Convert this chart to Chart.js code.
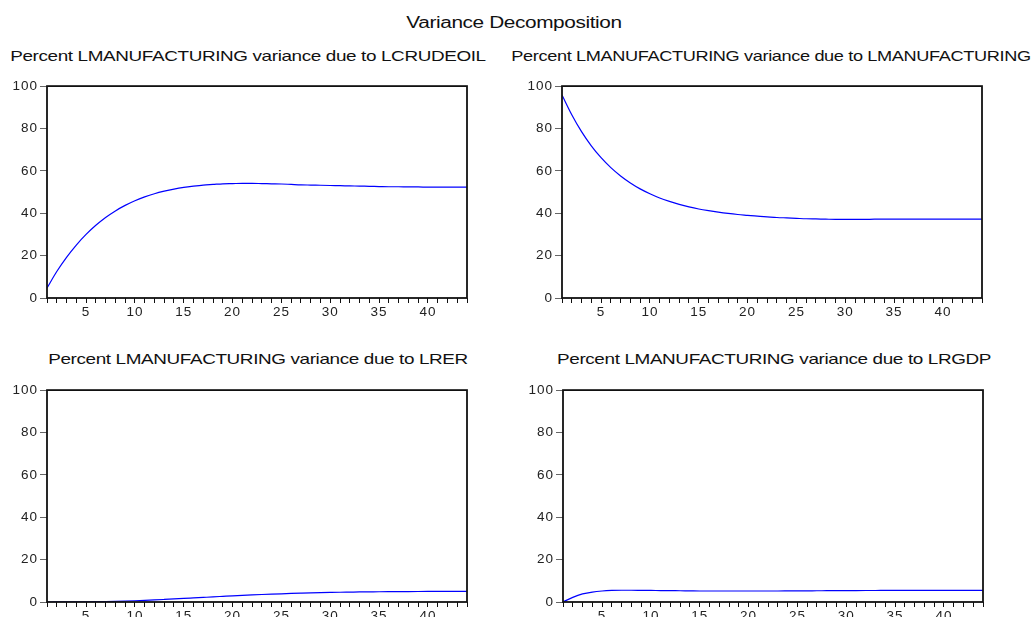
<!DOCTYPE html>
<html>
<head>
<meta charset="utf-8">
<script src="https://cdn.jsdelivr.net/npm/chart.js@4.4.1/dist/chart.umd.min.js"></script>
<style>
  html, body { margin:0; padding:0; background:#fff; width:1033px; height:617px; overflow:hidden; }
  body { position:relative; font-family:"Liberation Sans", Arial, sans-serif; color:#111; }
  .t { position:absolute; white-space:nowrap; transform:translateX(-50%) scaleX(1.26); font-size:15px; line-height:17px; letter-spacing:-0.3px; }
  .main { font-size:16px; line-height:18px; transform:translateX(-50%) scaleX(1.3); }
  .narrow { transform:translateX(-50%) scaleX(1.21); }
  canvas { position:absolute; }
</style>
</head>
<body>
<div class="t main" style="left:514px; top:14px;">Variance Decomposition</div>
<div class="t" style="left:248px; top:47px;">Percent LMANUFACTURING variance due to LCRUDEOIL</div>
<div class="t narrow" style="left:771px; top:47px;">Percent LMANUFACTURING variance due to LMANUFACTURING</div>
<div class="t" style="left:258px; top:350px;">Percent LMANUFACTURING variance due to LRER</div>
<div class="t" style="left:774px; top:350px;">Percent LMANUFACTURING variance due to LRGDP</div>
<canvas id="c1" width="480" height="250" style="left:0; top:76px;"></canvas>
<canvas id="c2" width="480" height="250" style="left:515px; top:76px;"></canvas>
<canvas id="c3" width="480" height="250" style="left:0; top:380px;"></canvas>
<canvas id="c4" width="480" height="250" style="left:516px; top:380px;"></canvas>
<script>
const periods = Array.from({length:44}, (_, i) => i + 1);
const yTicks = [0, 20, 40, 60, 80, 100];

const crudeOil = [4.7,12.5,19.2,25,30,34.3,38,41.1,43.7,45.9,47.7,49.2,50.4,51.4,52.2,52.8,53.3,53.6,53.9,54.0,
  54.1,54.1,54.0,53.9,53.8,53.6,53.4,53.3,53.2,53.1,53.0,52.9,52.8,52.7,52.6,52.5,52.5,52.4,52.4,52.3,
  52.3,52.3,52.3,52.3];
const manufacturing = [95.8,86.5,78.5,71.8,66.2,61.5,57.6,54.3,51.5,49.2,47.2,45.6,44.2,43.0,42.0,41.2,40.5,39.9,39.4,39.0,
  38.6,38.3,38.0,37.8,37.6,37.4,37.3,37.2,37.1,37.1,37.1,37.1,37.2,37.2,37.2,37.2,37.2,37.2,37.2,37.2,
  37.2,37.2,37.2,37.2];
const rer = [0,0.02,0.05,0.08,0.1,0.15,0.22,0.32,0.45,0.6,0.78,0.98,1.2,1.43,1.67,1.92,2.17,2.42,2.66,2.9,
  3.12,3.33,3.53,3.71,3.88,4.03,4.17,4.3,4.41,4.51,4.6,4.67,4.74,4.79,4.84,4.88,4.91,4.94,4.96,4.98,
  4.99,5.0,5.0,5.0];
const rgdp = [0,2.2,3.8,4.7,5.2,5.45,5.55,5.55,5.5,5.45,5.4,5.35,5.3,5.25,5.2,5.2,5.2,5.2,5.2,5.2,
  5.2,5.2,5.2,5.22,5.25,5.28,5.3,5.33,5.35,5.38,5.4,5.42,5.43,5.45,5.46,5.47,5.48,5.48,5.49,5.5,
  5.5,5.5,5.5,5.5];

// wider tick text, like the stretched original
const spacing = {
  id:'spacing',
  beforeInit(chart){ chart.ctx.letterSpacing = '1px'; },
  beforeDraw(chart){ chart.ctx.letterSpacing = '1px'; }
};

const frame = {
  id:'frame',
  afterDraw(chart){
    const a = chart.chartArea, ctx = chart.ctx;
    ctx.save();
    ctx.strokeStyle = '#111';
    ctx.lineWidth = 1.8;
    ctx.strokeRect(a.left, a.top, a.right - a.left, a.bottom - a.top);
    ctx.restore();
  }
};

const tickFont = { family:'"Liberation Sans", Arial, sans-serif', size:13.5 };

function buildChart(id, values){
  new Chart(document.getElementById(id), {
    type:'line',
    data:{ datasets:[{ data: periods.map((p, i) => ({x:p, y:values[i]})), borderColor:'#0000ff', borderWidth:1.2, pointRadius:0, cubicInterpolationMode:'monotone', fill:false }] },
    options:{
      responsive:false, animation:false,
      layout:{ padding:{ top:8, right:13, left:0, bottom:0 } },
      plugins:{ legend:{ display:false }, tooltip:{ enabled:false } },
      scales:{
        x:{ type:'linear', min:1, max:44,
          afterBuildTicks(s){ s.ticks = periods.map(v => ({value:v})); },
          afterFit(s){ s.height = 28; },
          border:{ display:false },
          grid:{ drawOnChartArea:false, tickLength:5, tickColor:'#111', tickWidth:1 },
          ticks:{ autoSkip:false, maxRotation:0, padding:1, color:'#222', font:tickFont,
            callback:v => v % 5 === 0 ? String(v) : '' } },
        y:{ min:0, max:100,
          afterBuildTicks(s){ s.ticks = yTicks.map(v => ({value:v})); },
          afterFit(s){ s.width = 47; },
          border:{ display:false },
          grid:{ drawOnChartArea:false, tickLength:7, tickColor:'#666', tickWidth:1 },
          ticks:{ padding:2, color:'#222', font:tickFont } }
      }
    },
    plugins:[spacing, frame]
  });
}

buildChart('c1', crudeOil);
buildChart('c2', manufacturing);
buildChart('c3', rer);
buildChart('c4', rgdp);
</script>
</body>
</html>
